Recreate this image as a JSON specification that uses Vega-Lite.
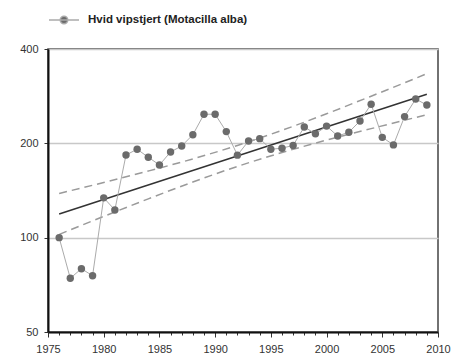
{
  "$schema": "https://vega.github.io/schema/vega-lite/v6.json",
  "width": 390,
  "height": 283,
  "autosize": "none",
  "padding": {"left": 48, "top": 49, "right": 18, "bottom": 24},
  "background": "white",
  "config": {
    "view": {"stroke": "#444444", "strokeWidth": 1.5},
    "font": "Liberation Sans",
    "axis": {"labelFont": "Liberation Sans", "labelFontSize": 11, "labelColor": "#333333", "titleFontSize": 0}
  },
  "datasets": {
    "series": [
      {"year": 1976, "value": 100}, {"year": 1977, "value": 74.2}, {"year": 1978, "value": 79.6},
      {"year": 1979, "value": 75.6}, {"year": 1980, "value": 134}, {"year": 1981, "value": 122.6},
      {"year": 1982, "value": 183.6}, {"year": 1983, "value": 191.5}, {"year": 1984, "value": 180.6},
      {"year": 1985, "value": 170.6}, {"year": 1986, "value": 187.7}, {"year": 1987, "value": 196.2},
      {"year": 1988, "value": 213}, {"year": 1989, "value": 247.7}, {"year": 1990, "value": 247.7},
      {"year": 1991, "value": 218}, {"year": 1992, "value": 183.4}, {"year": 1993, "value": 203.5},
      {"year": 1994, "value": 207}, {"year": 1995, "value": 191.5}, {"year": 1996, "value": 193},
      {"year": 1997, "value": 197}, {"year": 1998, "value": 225.6}, {"year": 1999, "value": 214.4},
      {"year": 2000, "value": 227}, {"year": 2001, "value": 211}, {"year": 2002, "value": 217},
      {"year": 2003, "value": 235.7}, {"year": 2004, "value": 266.6}, {"year": 2005, "value": 209},
      {"year": 2006, "value": 197.7}, {"year": 2007, "value": 243.4}, {"year": 2008, "value": 277},
      {"year": 2009, "value": 265}
    ],
    "trend": [
      {"year": 1976, "value": 119.0}, {"year": 2009, "value": 286.9}
    ],
    "bands": [
      {"band": "upper", "year": 1976, "value": 138.4}, {"band": "upper", "year": 1980, "value": 150.0},
      {"band": "upper", "year": 1984, "value": 163.2}, {"band": "upper", "year": 1988, "value": 178.4},
      {"band": "upper", "year": 1992, "value": 196.9}, {"band": "upper", "year": 1996, "value": 220.1},
      {"band": "upper", "year": 2000, "value": 248.6}, {"band": "upper", "year": 2004, "value": 282.8},
      {"band": "upper", "year": 2009, "value": 333.6},
      {"band": "lower", "year": 1976, "value": 102.4}, {"band": "lower", "year": 1980, "value": 116.9},
      {"band": "lower", "year": 1984, "value": 133.0}, {"band": "lower", "year": 1988, "value": 150.5},
      {"band": "lower", "year": 1992, "value": 168.8}, {"band": "lower", "year": 1996, "value": 186.9},
      {"band": "lower", "year": 2000, "value": 204.8}, {"band": "lower", "year": 2004, "value": 222.8},
      {"band": "lower", "year": 2009, "value": 246.8}
    ]
  },
  "encoding": {
    "x": {
      "field": "year", "type": "quantitative",
      "scale": {"domain": [1975, 2010], "nice": false, "zero": false},
      "axis": {
        "title": null,
        "values": [1975,1976,1977,1978,1979,1980,1981,1982,1983,1984,1985,1986,1987,1988,1989,1990,1991,1992,1993,1994,1995,1996,1997,1998,1999,2000,2001,2002,2003,2004,2005,2006,2007,2008,2009,2010],
        "labelExpr": "datum.value % 5 === 0 ? format(datum.value, 'd') : ''",
        "grid": false,
        "domainColor": "#111111", "domainWidth": 2,
        "tickColor": "#333333",
        "tickSize": {"condition": {"test": "datum.value % 5 === 0", "value": 5}, "value": 3},
        "labelPadding": 6,
        "labelFlush": false,
        "labelOverlap": false
      }
    },
    "y": {
      "field": "value", "type": "quantitative",
      "scale": {"type": "log", "domain": [50, 400], "nice": false},
      "axis": {
        "title": null,
        "values": [50, 100, 200, 400],
        "format": "d",
        "grid": true, "gridColor": "#c8c8c8", "gridWidth": 1.5,
        "domainColor": "#111111", "domainWidth": 2,
        "tickColor": "#333333", "tickSize": 4,
        "labelPadding": 6
      }
    }
  },
  "layer": [
    {
      "data": {"name": "bands"},
      "mark": {"type": "line", "color": "#9a9a9a", "strokeWidth": 1.5, "strokeDash": [8, 5], "interpolate": "monotone"},
      "encoding": {"detail": {"field": "band"}}
    },
    {
      "data": {"name": "trend"},
      "mark": {"type": "line", "color": "#333333", "strokeWidth": 1.5},
      "encoding": {}
    },
    {
      "data": {"name": "series"},
      "transform": [{"calculate": "'Hvid vipstjert (Motacilla alba)'", "as": "series"}],
      "mark": {"type": "line", "strokeWidth": 1},
      "encoding": {
        "color": {
          "field": "series", "type": "nominal",
          "scale": {"range": ["#ababab"]},
          "legend": {
            "title": null,
            "orient": "none",
            "legendX": 0,
            "legendY": -45,
            "symbolType": "M-1,0L1,0M-0.25,0A0.25,0.25,0,1,0,0.25,0A0.25,0.25,0,1,0,-0.25,0Z",
            "symbolSize": 900,
            "symbolStrokeWidth": 1.5,
            "labelFont": "Liberation Sans",
            "labelFontSize": 11.5,
            "labelFontWeight": "bold",
            "labelColor": "#222222",
            "labelOffset": 8,
            "encode": {"symbols": {"update": {"fill": {"value": "#6b6b6b"}, "stroke": {"value": "#9a9a9a"}, "opacity": {"value": 1}}}}
          }
        }
      }
    },
    {
      "data": {"name": "series"},
      "mark": {"type": "point", "filled": true, "size": 55, "color": "#6b6b6b", "opacity": 1},
      "encoding": {}
    }
  ]
}
